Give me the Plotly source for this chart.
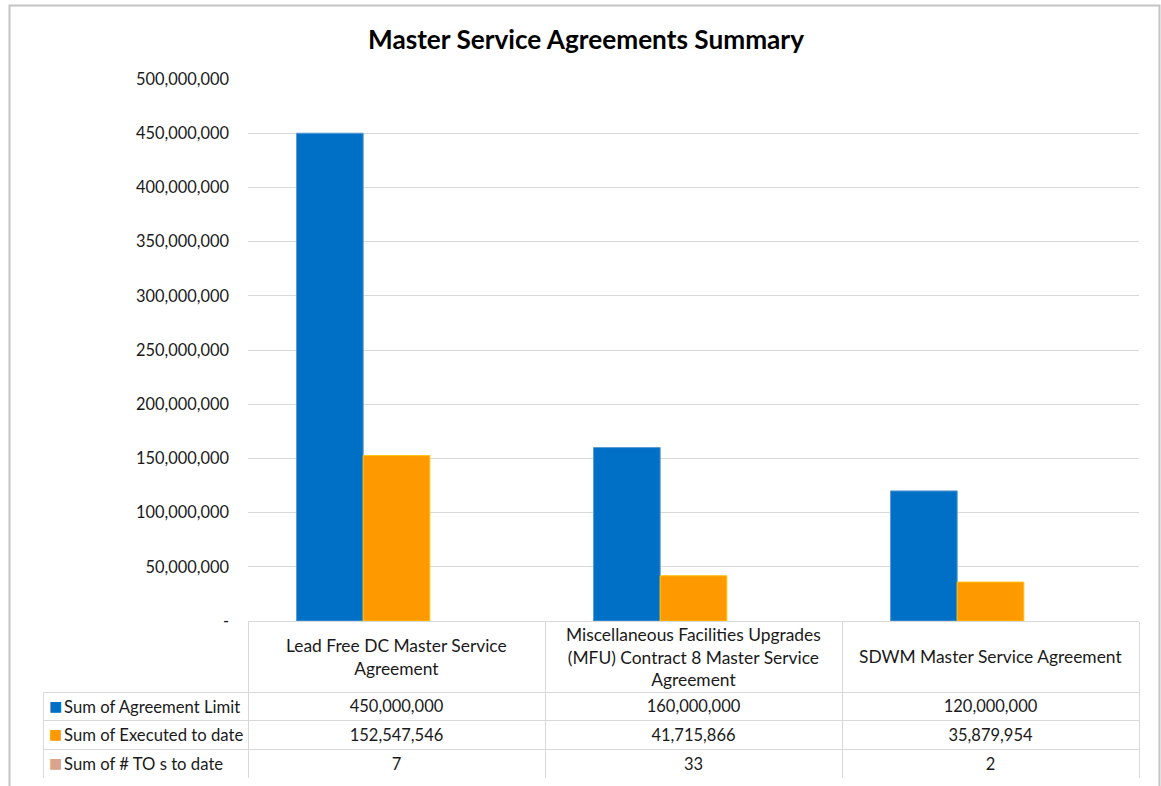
import plotly.graph_objects as go

# category names and the wrapped labels shown in the data-table header
categories = ["Lead Free DC", "MFU Contract 8", "SDWM"]
category_labels = [
    "Lead Free DC Master Service<br>Agreement",
    "Miscellaneous Facilities Upgrades<br>(MFU) Contract 8 Master Service<br>Agreement",
    "SDWM Master Service Agreement",
]

series_names = ["Sum of Agreement Limit", "Sum of Executed to date", "Sum of # TO s to date"]
agreement_limit = [450000000, 160000000, 120000000]
executed_to_date = [152547546, 41715866, 35879954]
to_count = [7, 33, 2]

y_ticks = [0, 50000000, 100000000, 150000000, 200000000, 250000000,
           300000000, 350000000, 400000000, 450000000, 500000000]

COLORS = ["#0070C6", "#FF9900", "#D9A38C"]
EDGES = ["#5B9BD5", "#FFC000", "#D9A38C"]
GRID = "#D9D9D9"
TEXT = "#1A1A1A"
FONT = "Lato"
CLEAR = "rgba(0,0,0,0)"

W, H = 1161, 786
PL, PR, PT, PB = 43, 1139, 79, 778      # plot area incl. data table
PW, PH = PR - PL, PB - PT
ROW_H = 28.7
fig = go.Figure()

for name, vals, col, edge, lw in zip(series_names, [agreement_limit, executed_to_date, to_count],
                                     COLORS, EDGES, [1, 1, 0]):
    fig.add_bar(x=categories, y=vals, name=name, marker=dict(color=col, line=dict(color=edge, width=lw)),
                showlegend=False)

# data table under the chart (grid + values)
fmt = lambda v: f"{v:,.0f}"
rows = [agreement_limit, executed_to_date, to_count]
columns = [["", "", ""]] + [[fmt(r[i]) for r in rows] for i in range(len(categories))]
cell_font = dict(family=FONT, size=16.5, color=TEXT)
table_y = [0, 86 / PH]

fig.add_trace(go.Table(
    domain=dict(x=[0, 1], y=table_y),
    columnwidth=[205, 297, 297, 297],
    header=dict(values=[c[0] for c in columns], height=ROW_H, align="center",
                line=dict(color=GRID, width=1), fill=dict(color="white"), font=cell_font),
    cells=dict(values=[c[1:] for c in columns], height=ROW_H, align="center",
               line=dict(color=GRID, width=1), fill=dict(color="white"), font=cell_font),
))

# series names (wide, borderless overlay so the text does not wrap)
name_font = dict(family=FONT, size=16.7, color=TEXT)
fig.add_trace(go.Table(
    domain=dict(x=[13 / PW, 320 / PW], y=table_y),
    header=dict(values=[series_names[0]], height=ROW_H, align="left", line=dict(width=0),
                fill=dict(color=CLEAR), font=name_font),
    cells=dict(values=[series_names[1:]], height=ROW_H, align="left", line=dict(width=0),
               fill=dict(color=CLEAR), font=name_font),
))

# legend keys in the first table column
fig.add_trace(go.Table(
    domain=dict(x=[0, 25 / PW], y=table_y),
    header=dict(values=["■"], height=ROW_H, align="center", line=dict(width=0),
                fill=dict(color=CLEAR),
                font=dict(family="DejaVu Sans", size=14, color=COLORS[0])),
    cells=dict(values=[["■", "■"]], height=ROW_H, align="center", line=dict(width=0),
               fill=dict(color=CLEAR),
               font=dict(family="DejaVu Sans", size=14, color=[COLORS[1:]])),
))

# header labels of the table (category axis labels)
for cat, lab in zip(categories, category_labels):
    fig.add_annotation(x=cat, y=(PB - 656.5) / PH, xref="x", yref="paper", text=lab,
                       showarrow=False, yanchor="middle", align="center",
                       font=dict(family=FONT, size=17.4, color=TEXT))

# outer chart border
fig.add_shape(type="rect", xref="paper", yref="paper",
              x0=(9.5 - PL) / PW, x1=(1159.5 - PL) / PW,
              y0=(PB - 795) / PH, y1=(PB - 5.5) / PH,
              line=dict(color="#C4C4C4", width=2), layer="below")

fig.update_layout(
    width=W, height=H,
    margin=dict(l=PL, r=W - PR, t=PT, b=H - PB, autoexpand=False),
    paper_bgcolor="white", plot_bgcolor="white",
    font=dict(family=FONT, size=15, color=TEXT),
    title=dict(text="<b>Master Service Agreements Summary</b>", x=586 / W, xanchor="center",
               y=1 - 40 / H, yanchor="middle", font=dict(family=FONT, size=26.2, color="black")),
    barmode="group", bargap=0.327, bargroupgap=0,
    xaxis=dict(domain=[205 / PW, 1], type="category", showgrid=False, showticklabels=False,
               tickson="boundaries", ticks="outside", ticklen=71, tickcolor=GRID, tickwidth=1,
               showline=True, linecolor=GRID, linewidth=1, fixedrange=True, automargin=False),
    yaxis=dict(domain=[157 / PH, 1], range=[0, 500000000], tickvals=y_ticks,
               ticktext=["-" if v == 0 else fmt(v) for v in y_ticks],
               showgrid=True, gridcolor=GRID, gridwidth=1, zeroline=False, ticks="",
               ticklabelstandoff=18, automargin=False,
               tickfont=dict(family=FONT, size=16.4, color=TEXT)),
)

# drop the default page margin so the figure sits at the window's top-left corner
fig.write_html("out.html", config={"displayModeBar": False},
               post_script="document.body.style.margin='0';document.body.style.overflow='hidden';")
